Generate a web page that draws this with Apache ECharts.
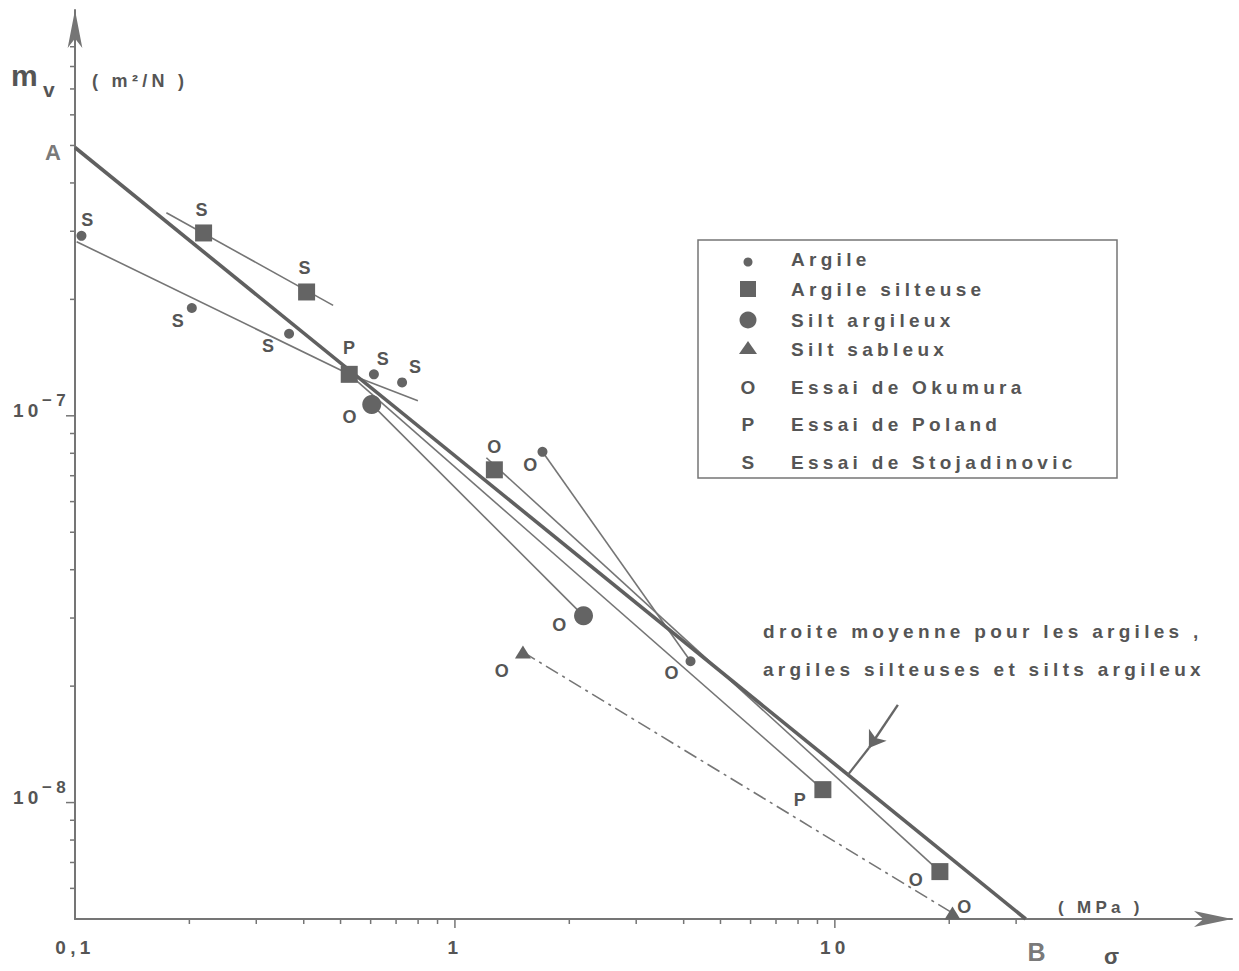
<!DOCTYPE html>
<html><head><meta charset="utf-8">
<script src="https://cdn.jsdelivr.net/npm/echarts@6/dist/echarts.min.js"></script>
<style>
html,body{margin:0;padding:0;background:#fff;}
#chart{width:1239px;height:971px;letter-spacing:4.3px;}
</style></head><body><div id="chart"></div>
<script>
// ---- axes ----
const X_MIN = 0.1, X_MAX = 111;
const Y_MIN = 5e-9, Y_MAX = 1.12e-6;
const xLabelValues = [0.1, 1, 10];
const xLabelTexts = ['0,1', '1', '10'];
const yLabelExponents = [-8, -7];
const xTicks = [0.2,0.3,0.4,0.5,0.6,0.7,0.8,0.9,1,2,3,4,5,6,7,8,9,10,20,30];
const xMajorTicks = [1, 10];
const yTicks = [6e-9,7e-9,8e-9,9e-9,1e-8,2e-8,3e-8,4e-8,5e-8,6e-8,7e-8,8e-8,9e-8,1e-7,2e-7,3e-7,4e-7,5e-7,6e-7,7e-7,8e-7,9e-7];
const yMajorTicks = [1e-8, 1e-7];

// ---- points (sigma in MPa, mv in m2/N) ----
const argileX = [0.104, 0.203, 0.366, 0.612, 0.726, 1.70, 4.17];
const argileY = [2.92e-7, 1.90e-7, 1.63e-7, 1.28e-7, 1.22e-7, 8.07e-8, 2.32e-8];
const argileTest = ['S','S','S','S','S','O','O'];

const silteuseX = [0.218, 0.407, 0.527, 1.27, 9.30, 18.9];
const silteuseY = [2.97e-7, 2.09e-7, 1.28e-7, 7.25e-8, 1.08e-8, 6.63e-9];
const silteuseTest = ['S','S','P','O','P','O'];

const siltArgX = [0.604, 2.18];
const siltArgY = [1.07e-7, 3.04e-8];
const siltArgTest = ['O','O'];

const siltSabX = [1.51, 20.4];
const siltSabY = [2.45e-8, 5.18e-9];
const siltSabTest = ['O','O'];

// ---- fitted lines ----
const stojArgileX = [0.101, 0.527];      const stojArgileY = [2.82e-7, 1.28e-7];
const stojArgile2X = [0.527, 0.799];     const stojArgile2Y = [1.28e-7, 1.093e-7];
const stojSilteuseX = [0.174, 0.478];    const stojSilteuseY = [3.35e-7, 1.93e-7];
const okuArgileX = [1.70, 4.17];         const okuArgileY = [8.07e-8, 2.32e-8];
const okuSilteuseX = [1.21, 18.9];       const okuSilteuseY = [7.79e-8, 6.63e-9];
const okuSiltArgX = [0.604, 2.18];       const okuSiltArgY = [1.07e-7, 3.04e-8];
const polandX = [0.527, 9.30];           const polandY = [1.28e-7, 1.08e-8];
const okuSiltSabX = [1.51, 20.4];        const okuSiltSabY = [2.45e-8, 5.18e-9];
const meanX = [0.1, 31.8];               const meanY = [4.94e-7, 5e-9];
const meanEndLabels = ['A', 'B'];
const arrowX = [14.65, 12.29, 10.82];    const arrowY = [1.789e-8, 1.384e-8, 1.179e-8];

// ---- label placement (style, not data) ----
const argileLabelOffsets = [[8,-16],[-12,13],[-19,12],[11,-15],[15,-15],[-10,13],[-17,12]];
const silteuseLabelOffsets = [[0,-23],[0,-24],[2,-26],[2,-23],[-21,10],[-22,8]];
const siltArgLabelOffsets = [[-20,13],[-22,9]];
const siltSabLabelOffsets = [[-19,19],[14,-6]];
const meanLabelOffsets = [[-20,5],[13,33]];

const INK = '#555555', LINE = '#757575', MARK = '#646464';
const FONT = '"Liberation Sans", Arial, sans-serif';

const zip = (xs, ys) => xs.map((x, i) => [x, ys[i]]);
function pts(xs, ys, labels, offsets) {
  return xs.map((x, i) => ({ value: [x, ys[i]], label: { formatter: labels[i], offset: offsets[i] } }));
}
function seg(name, xs, ys, extra) {
  return Object.assign({
    type: 'line', name, data: zip(xs, ys), symbol: 'none', silent: true, z: 2,
    lineStyle: { color: LINE, width: 1.6 }
  }, extra || {});
}
const pointLabel = { show: true, position: 'inside', color: INK, fontSize: 18, fontWeight: 'bold', fontFamily: FONT };
function scatter(name, xs, ys, labels, offsets, symbol, size) {
  return {
    type: 'scatter', name, symbol, symbolSize: size, z: 5, silent: true,
    itemStyle: { color: MARK, opacity: 1 },
    label: pointLabel,
    data: pts(xs, ys, labels, offsets)
  };
}
function ticks(name, vals, majors, axis) {
  const data = vals.map(v => axis === 'x' ? [v, Y_MIN, majors.includes(v) ? 1 : 0] : [X_MIN, v, majors.includes(v) ? 1 : 0]);
  return {
    type: 'custom', name, silent: true, z: 4, data,
    renderItem(params, api) {
      const p = api.coord([api.value(0), api.value(1)]);
      const len = api.value(2) === 1 ? 9 : 5;
      const shape = axis === 'x'
        ? { x1: p[0], y1: p[1], x2: p[0], y2: p[1] + len }
        : { x1: p[0], y1: p[1], x2: p[0] - len, y2: p[1] };
      return { type: 'line', shape, style: { stroke: LINE, lineWidth: 1.5 } };
    }
  };
}
const isPow = (v, e) => Math.abs(Math.log10(v) - e) < 1e-6;

const chart = echarts.init(document.getElementById('chart'), null, { renderer: 'svg' });
const txt = (extra) => Object.assign({ fill: INK, fontFamily: FONT, fontWeight: 'bold', fontSize: 19 }, extra);

const legendRows = [
  ['Argile', 259], ['Argile silteuse', 289], ['Silt argileux', 320], ['Silt sableux', 349],
  ['Essai de Okumura', 387], ['Essai de Poland', 424], ['Essai de Stojadinovic', 462]
];

chart.setOption({
  backgroundColor: '#ffffff',
  animation: false,
  grid: { left: 75, right: 7, top: 10, bottom: 52, outerBoundsMode: 'none' },
  xAxis: {
    type: 'log', logBase: 10, min: X_MIN, max: X_MAX,
    axisLine: { show: true, symbol: ['none', 'arrow'], symbolSize: [12, 38], lineStyle: { color: LINE, width: 2 } },
    axisTick: { show: false }, splitLine: { show: false }, minorTick: { show: false },
    axisLabel: {
      margin: 19, color: INK, fontSize: 19, fontWeight: 'bold', fontFamily: FONT,
      formatter: v => { const i = xLabelValues.findIndex(t => Math.abs(v / t - 1) < 1e-6); return i >= 0 ? xLabelTexts[i] : ''; }
    }
  },
  yAxis: {
    type: 'log', logBase: 10, min: Y_MIN, max: Y_MAX,
    axisLine: { show: true, symbol: ['none', 'arrow'], symbolSize: [11, 38], lineStyle: { color: LINE, width: 2 } },
    axisTick: { show: false }, splitLine: { show: false }, minorTick: { show: false },
    axisLabel: {
      margin: 5, verticalAlign: 'middle', padding: [0, 0, 20, 0],
      formatter: v => { const e = yLabelExponents.find(k => isPow(v, k)); return e !== undefined ? '{b|10}{s|\u2212' + Math.abs(e) + '}' : ''; },
      rich: {
        b: { color: INK, fontSize: 19, fontWeight: 'bold', fontFamily: FONT, lineHeight: 18, verticalAlign: 'bottom' },
        s: { color: INK, fontSize: 17, fontWeight: 'bold', fontFamily: FONT, lineHeight: 28, verticalAlign: 'top', padding: [0, 0, 0, 8] }
      }
    }
  },
  series: [
    ticks('xTicks', xTicks, xMajorTicks, 'x'),
    ticks('yTicks', yTicks, yMajorTicks, 'y'),
    seg('Stojadinovic argile', stojArgileX, stojArgileY),
    seg('Stojadinovic argile 2', stojArgile2X, stojArgile2Y),
    seg('Stojadinovic argile silteuse', stojSilteuseX, stojSilteuseY),
    seg('Okumura argile', okuArgileX, okuArgileY),
    seg('Okumura argile silteuse', okuSilteuseX, okuSilteuseY),
    seg('Okumura silt argileux', okuSiltArgX, okuSiltArgY),
    seg('Poland', polandX, polandY),
    seg('Okumura silt sableux', okuSiltSabX, okuSiltSabY, { lineStyle: { color: LINE, width: 1.6, type: [14, 5, 3, 5] } }),
    seg('droite moyenne', meanX, meanY, { z: 3, lineStyle: { color: '#606060', width: 3.6 } }),
    {
      type: 'scatter', name: 'A-B', symbolSize: 1, silent: true, z: 6,
      itemStyle: { color: 'rgba(0,0,0,0)' },
      label: { show: true, position: 'inside', color: INK, fontWeight: 'bold', fontFamily: FONT, fontSize: 22 },
      data: meanX.map((x, i) => ({ value: [x, meanY[i]], label: { formatter: meanEndLabels[i], offset: meanLabelOffsets[i], fontSize: i ? 25 : 22 } }))
    },
    {
      type: 'lines', name: 'arrow', coordinateSystem: 'cartesian2d', silent: true, z: 3,
      symbol: ['none', 'arrow'], symbolSize: [9, 16],
      lineStyle: { color: '#666', width: 2.4, opacity: 1 },
      data: [{ coords: [[arrowX[0], arrowY[0]], [arrowX[1], arrowY[1]]] }]
    },
    seg('arrow tail', arrowX.slice(1), arrowY.slice(1), { z: 3, lineStyle: { color: '#666', width: 2.2 } }),
    scatter('Argile', argileX, argileY, argileTest, argileLabelOffsets, 'circle', 10),
    scatter('Argile silteuse', silteuseX, silteuseY, silteuseTest, silteuseLabelOffsets, 'rect', 17),
    scatter('Silt argileux', siltArgX, siltArgY, siltArgTest, siltArgLabelOffsets, 'circle', 19),
    scatter('Silt sableux', siltSabX, siltSabY, siltSabTest, siltSabLabelOffsets, 'triangle', [16, 13])
  ],
  graphic: [
    { type: 'rect', shape: { x: 698, y: 240, width: 419, height: 238 }, style: { fill: 'none', stroke: LINE, lineWidth: 1.5 } },
    { type: 'text', x: 11, y: 75, style: txt({ text: 'm', fontSize: 30, verticalAlign: 'middle' }) },
    { type: 'text', x: 43, y: 89, style: txt({ text: 'v', fontSize: 21, verticalAlign: 'middle' }) },
    { type: 'text', x: 92, y: 81, style: txt({ text: '( m\u00b2/N )', fontSize: 18, verticalAlign: 'middle' }) },
    { type: 'text', x: 1058, y: 907, style: txt({ text: '( MPa )', fontSize: 17, verticalAlign: 'middle' }) },
    { type: 'text', x: 1104, y: 956, style: txt({ text: '\u03c3', fontSize: 22, verticalAlign: 'middle' }) },
    { type: 'text', x: 763, y: 631, style: txt({ text: 'droite moyenne pour les argiles ,', verticalAlign: 'middle' }) },
    { type: 'text', x: 763, y: 669, style: txt({ text: 'argiles silteuses et silts argileux', verticalAlign: 'middle' }) },
    { type: 'circle', shape: { cx: 748, cy: 262, r: 4.5 }, style: { fill: MARK } },
    { type: 'rect', shape: { x: 740, y: 281, width: 16, height: 16 }, style: { fill: MARK } },
    { type: 'circle', shape: { cx: 748, cy: 320, r: 8.5 }, style: { fill: MARK } },
    { type: 'polygon', shape: { points: [[748, 341], [739, 354], [757, 354]] }, style: { fill: MARK } },
    { type: 'text', x: 750, y: 387, style: txt({ text: 'O', align: 'center', verticalAlign: 'middle' }) },
    { type: 'text', x: 750, y: 424, style: txt({ text: 'P', align: 'center', verticalAlign: 'middle' }) },
    { type: 'text', x: 750, y: 462, style: txt({ text: 'S', align: 'center', verticalAlign: 'middle' }) }
  ].concat(legendRows.map(([t, y]) => ({ type: 'text', x: 791, y, style: txt({ text: t, verticalAlign: 'middle' }) })))
});
</script></body></html>
